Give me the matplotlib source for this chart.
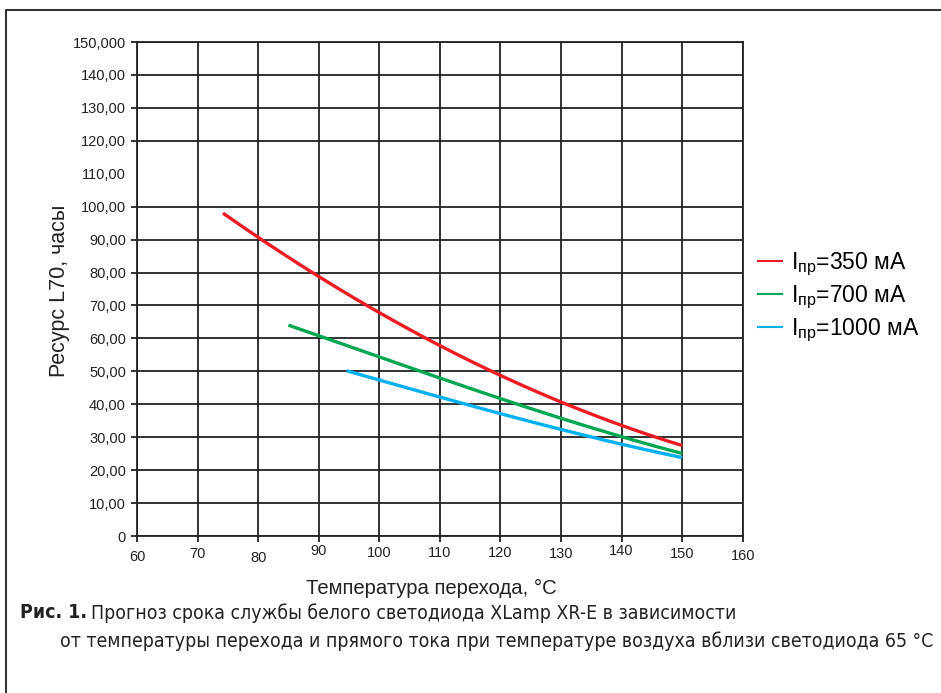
import numpy as np
import matplotlib
matplotlib.use("Agg")
import matplotlib.pyplot as plt
from matplotlib.lines import Line2D
from matplotlib.transforms import ScaledTranslation
from matplotlib import font_manager

plt.rcParams["font.family"] = ["Liberation Sans", "DejaVu Sans"]

# данные
t_350 = [74.2, 80, 90, 100, 110, 120, 130, 140, 150]
l_350 = [98.0, 90.7, 79.1, 67.3, 57.9, 49.1, 40.7, 33.3, 27.6]
t_700 = [85, 90, 100, 110, 120, 130, 140, 150]
l_700 = [64.2, 60.7, 54.0, 48.3, 41.9, 35.7, 29.9, 25.2]
t_1000 = [94.6, 100, 110, 120, 130, 140, 150]
l_1000 = [50.2, 47.3, 42.2, 37.2, 32.3, 27.9, 23.8]

x_ticks = [60, 70, 80, 90, 100, 110, 120, 130, 140, 150, 160]
y_ticks = list(range(0, 151, 10))
y_labels = ["0"] + [f"{v},00" for v in y_ticks[1:-1]] + ["150,000"]
# небольшой разброс подписей оси X по высоте, как в оригинале (пиксели, вверх +)
x_label_shift = [-3.8, -0.4, -4.7, 2.1, 0, 0, 0, -0.9, 2.1, -0.4, -2.1]

series = [
    (t_350, l_350, "#ed1c24", r"I$_\mathregular{пр}$=350 мА"),
    (t_700, l_700, "#00a651", r"I$_\mathregular{пр}$=700 мА"),
    (t_1000, l_1000, "#00b0f0", r"I$_\mathregular{пр}$=1000 мА"),
]

W, H = 941, 693
fig = plt.figure(figsize=(W / 100, H / 100), dpi=100)
ax = fig.add_axes([137 / W, 1 - 536 / H, (742.7 - 137) / W, (536 - 42) / H])

for t, l, c, lab in series:
    tt = np.linspace(t[0], t[-1], 200)
    # сглаживание по снятым точкам
    p = np.polyfit(t, l, 3)
    ax.plot(tt, np.polyval(p, tt), color=c, lw=2.4, solid_capstyle="butt", zorder=3)

ax.set_xlim(60, 160)
ax.set_ylim(0, 150)
ax.set_xticks(x_ticks)
ax.set_yticks(y_ticks)
ax.set_yticklabels(y_labels)
ax.tick_params(axis="both", labelsize=10.5, color="#222222", width=1.3,
               length=4, direction="out", labelcolor="#222222")
ax.tick_params(axis="x", pad=3.5)
ax.tick_params(axis="y", pad=4)
ax.grid(True, color="#222222", lw=1.3)
for s in ax.spines.values():
    s.set_color("#222222")
    s.set_linewidth(1.3)

# в оригинале линии и засечки для 110 нет
idx = y_ticks.index(110)
ax.yaxis.get_gridlines()[idx].set_visible(False)
ax.yaxis.get_major_ticks()[idx].tick1line.set_visible(False)

for lbl, dy in zip(ax.get_xticklabels(), x_label_shift):
    lbl.set_transform(lbl.get_transform() + ScaledTranslation(0, dy / 100, fig.dpi_scale_trans))

fig.text(60 / W, 1 - 291 / H, "Ресурс L70, часы", rotation=90, ha="center",
         va="center", fontsize=15.5, color="#222222")
fig.text(431 / W, 1 - 588 / H, "Температура перехода, °С", ha="center",
         va="center", fontsize=14.6, color="#222222")

handles = [Line2D([], [], color=c, lw=1.5) for _, _, c, _ in series]
ax.legend(handles, [s[3] for s in series], loc="center left",
          bbox_to_anchor=(758 / W, 1 - 297 / H), bbox_transform=fig.transFigure,
          frameon=False, fontsize=16.5, handlelength=1.05, handletextpad=0.4,
          labelspacing=0.25, borderpad=0, borderaxespad=0)

# рамка рисунка
fig.add_artist(Line2D([6 / W, 6 / W, 1], [0, 1 - 10 / H, 1 - 10 / H],
                      color="#333333", lw=1.5))

# подпись: узкий шрифт, если есть
fp = font_manager.FontProperties(family="DejaVu Sans", stretch="condensed")
path = font_manager.findfont(fp, fallback_to_default=True)
if "Condensed" in path:
    cap_kw = dict(family="DejaVu Sans", stretch="condensed")
else:
    cap_kw = dict(family="Liberation Sans")

line1 = "Прогноз срока службы белого светодиода XLamp XR-E в зависимости"
line2 = "от температуры перехода и прямого тока при температуре воздуха вблизи светодиода 65 °С"

renderer = fig.canvas.get_renderer()
probe = fig.text(0, 0, line2, fontsize=12, **cap_kw)
w12 = probe.get_window_extent(renderer).width
probe.remove()
cap_size = 12 * 872 / w12

b = fig.text(20 / W, 1 - 613 / H, "Рис. 1.", fontsize=cap_size, fontweight="bold",
             va="center", color="#222222", **cap_kw)
bw = b.get_window_extent(renderer).width
fig.text((20 + bw + 4) / W, 1 - 613 / H, line1, fontsize=cap_size, va="center",
         color="#222222", **cap_kw)
fig.text(60 / W, 1 - 641 / H, line2, fontsize=cap_size, va="center",
         color="#222222", **cap_kw)

fig.savefig("out.png", dpi=100)
